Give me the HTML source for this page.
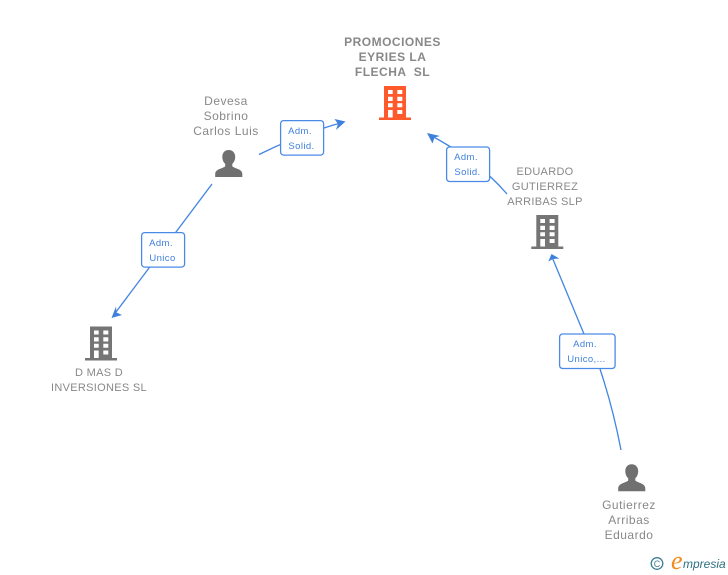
<!DOCTYPE html>
<html>
<head>
<meta charset="utf-8">
<style>
html,body{margin:0;padding:0;background:#fff;width:728px;height:575px;overflow:hidden}
svg{display:block}
text{font-family:"Liberation Sans",Arial,sans-serif}
.n{font-size:12px;fill:#888;text-anchor:middle;letter-spacing:.5px}
.u{font-size:11px;letter-spacing:.3px}
.b{font-size:12px;font-weight:bold;fill:#888;letter-spacing:.5px}
.l{font-size:9.5px;fill:#3f80dc;text-anchor:middle;letter-spacing:.4px}
.c{fill:none;stroke:#4285e0;stroke-width:1.3}
.a{fill:#3f80dc}
.r{fill:#fff;stroke:#4a8ae6;stroke-width:1.3}
</style>
</head>
<body>
<svg width="728" height="575" viewBox="0 0 728 575" xmlns="http://www.w3.org/2000/svg">
<defs>
<g id="bld">
<path fill-rule="evenodd" d="M384 86H406V117.5H411V120H379V117.5H384ZM388 90V94H392.7V90ZM397.3 90V94H402.3V90ZM388 96.7V101H392.7V96.7ZM397.3 96.7V101H402.3V96.7ZM388 103.3V107.3H392.7V103.3ZM397.3 103.3V107.3H402.3V103.3ZM388 110V117.5H392.7V110ZM397.3 110V114H402.3V110Z"/>
</g>
<g id="per">
<path d="M228.7 150C224.6 150 222.3 153 222.3 156.8C222.3 159.8 223.4 162.3 225.2 163.9V166C225.2 167 222 167.9 219 169.3C216.4 170.4 215.2 172 215.2 174V177H242.3V174C242.3 172 241 170.4 238.5 169.3C235.5 167.9 232.3 167 232.3 166V163.9C234.1 162.3 235.2 159.8 235.2 156.8C235.2 153 232.8 150 228.7 150Z"/>
</g>
</defs>

<!-- connectors -->
<path class="c" d="M259 154.5Q300 134 344 122"/>
<path class="a" d="M345.5 121.5L334.5 119L338 124L336 130Z"/>
<path class="c" d="M507 194Q478 160 428 134"/>
<path class="a" d="M427 133L432.5 143.5L434.5 137.5L440 136Z"/>
<path class="c" d="M212 184L113 316"/>
<path class="a" d="M111.5 318L122 315L116.5 312.5L116 306.5Z"/>
<path class="c" d="M621 450Q613 408 600 369"/>
<path class="c" d="M584 334L552 257"/>
<path class="a" d="M551.5 254L548.3 261.5L553 259L559.3 258.5Z"/>

<!-- labels -->
<rect class="r" x="280.6" y="120.6" width="43" height="34.5" rx="3"/>
<text class="l" x="300" y="134">Adm.</text>
<text class="l" x="301.5" y="149">Solid.</text>

<rect class="r" x="446.6" y="147" width="43" height="34.5" rx="3"/>
<text class="l" x="466" y="160">Adm.</text>
<text class="l" x="467.5" y="175">Solid.</text>

<rect class="r" x="141.6" y="232.6" width="43" height="34.5" rx="3"/>
<text class="l" x="161" y="246">Adm.</text>
<text class="l" x="162.5" y="261">Unico</text>

<rect class="r" x="559.6" y="334" width="55.5" height="34.5" rx="3"/>
<text class="l" x="585" y="347">Adm.</text>
<text class="l" x="586.5" y="362">Unico,...</text>

<!-- icons -->
<use href="#bld" fill="#ff5a2b"/>
<use href="#bld" fill="#757575" transform="translate(152.3 129)"/>
<use href="#bld" fill="#757575" transform="translate(-294 240.5)"/>
<use href="#per" fill="#707070"/>
<use href="#per" fill="#707070" transform="translate(403 314.3)"/>

<!-- node text -->
<text class="n b" x="392.5" y="46">PROMOCIONES</text>
<text class="n b" x="392.5" y="61">EYRIES LA</text>
<text class="n b" x="392.5" y="76" xml:space="preserve">FLECHA  SL</text>

<text class="n" x="226" y="105">Devesa</text>
<text class="n" x="226" y="120">Sobrino</text>
<text class="n" x="226" y="135">Carlos Luis</text>

<text class="n u" x="545" y="175">EDUARDO</text>
<text class="n u" x="545" y="190">GUTIERREZ</text>
<text class="n u" x="545" y="205">ARRIBAS SLP</text>

<text class="n u" x="99" y="376">D MAS D</text>
<text class="n u" x="99" y="391">INVERSIONES SL</text>

<text class="n" x="629" y="509">Gutierrez</text>
<text class="n" x="629" y="524">Arribas</text>
<text class="n" x="629" y="539">Eduardo</text>

<!-- logo -->
<circle cx="657" cy="563.5" r="5.8" fill="none" stroke="#3d7f92" stroke-width="1.3"/>
<text x="657" y="566.8" font-size="9" fill="#3d7f92" text-anchor="middle">C</text>
<text x="671" y="569" font-size="26" font-style="italic" fill="#f28a1c" style="font-family:'Liberation Serif',serif">e</text>
<text x="683" y="568" font-size="12" font-style="italic" fill="#2d6f80">mpresia</text>
</svg>
</body>
</html>
